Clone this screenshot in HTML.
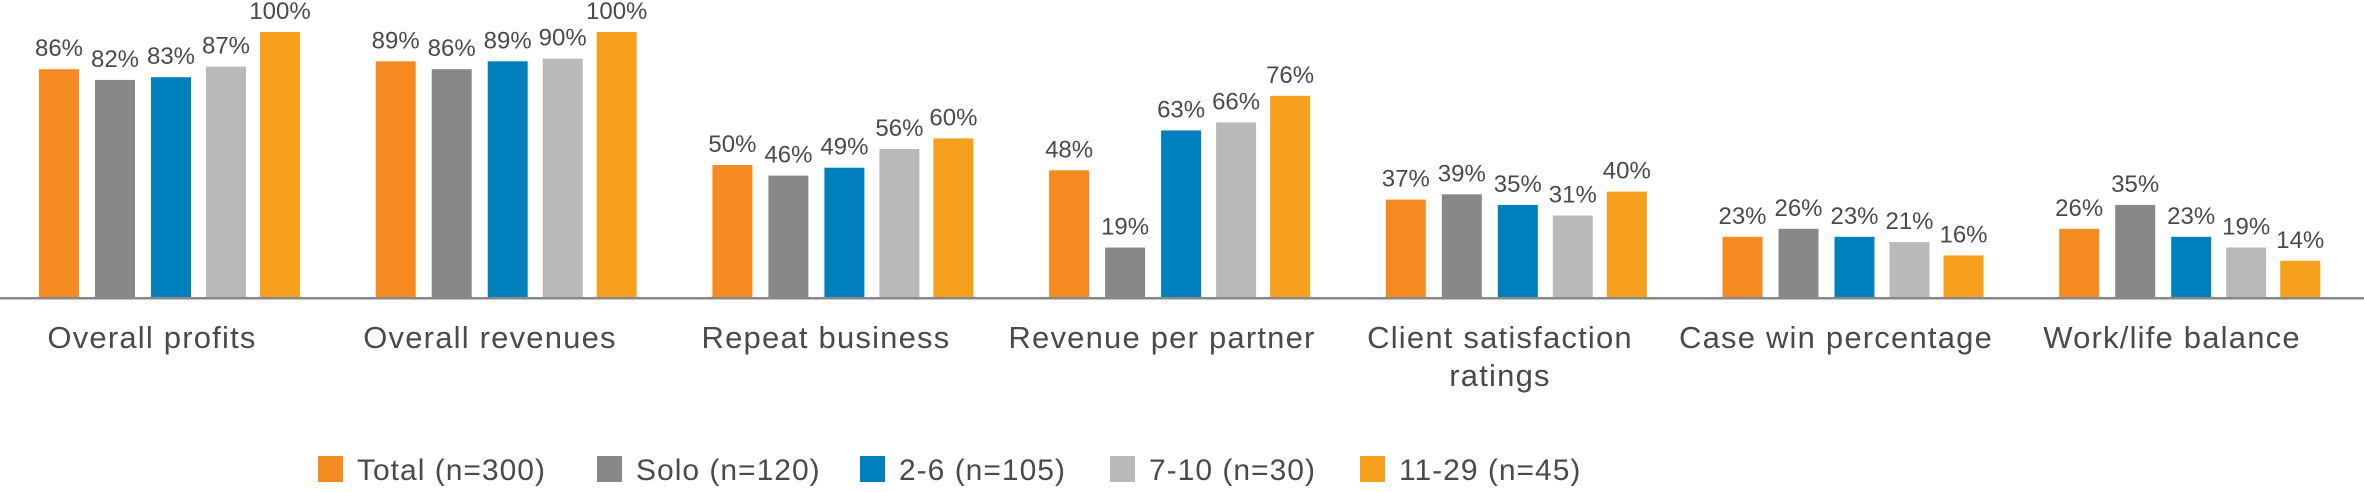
<!DOCTYPE html>
<html><head><meta charset="utf-8"><style>
html,body{margin:0;padding:0;background:#fff;}
svg text{font-family:"Liberation Sans",sans-serif;fill:#4a4a4a;}
</style></head><body>
<svg width="2364" height="487" viewBox="0 0 2364 487" xmlns="http://www.w3.org/2000/svg">
<g id="bars"></g>
<rect x="0" y="297" width="2364" height="2.5" fill="#87888a"/>
<g font-size="31" letter-spacing="1.2" text-anchor="middle">
<text x="152" y="348">Overall profits</text>
<text x="490" y="348">Overall revenues</text>
<text x="826" y="348">Repeat business</text>
<text x="1162" y="348">Revenue per partner</text>
<text x="1500" y="348">Client satisfaction</text>
<text x="1500" y="386">ratings</text>
<text x="1836" y="348">Case win percentage</text>
<text x="2172" y="348">Work/life balance</text>
</g>
<g font-size="30" letter-spacing="1">
<rect x="318" y="456" width="25" height="26" fill="#f58a21"/><text x="357" y="480">Total (n=300)</text>
<rect x="597" y="456" width="25" height="26" fill="#87888a"/><text x="636" y="480">Solo (n=120)</text>
<rect x="860" y="456" width="25" height="26" fill="#0081be"/><text x="899" y="480">2-6 (n=105)</text>
<rect x="1110" y="456" width="25" height="26" fill="#b8b9bb"/><text x="1149" y="480">7-10 (n=30)</text>
<rect x="1360" y="456" width="25" height="26" fill="#f7a01e"/><text x="1399" y="480">11-29 (n=45)</text>
</g>
</svg>
<script>
var data=[[86,82,83,87,100],[89,86,89,90,100],[50,46,49,56,60],[48,19,63,66,76],[37,39,35,31,40],[23,26,23,21,16],[26,35,23,19,14]];
var cols=["#f58a21","#87888a","#0081be","#b8b9bb","#f7a01e"];
var offs=[0,56,112,167,221];
var g=document.getElementById("bars"),s="";
data.forEach(function(d,i){d.forEach(function(v,j){
var x=39+i*336.7+offs[j],h=v*2.66,y=298-h;
s+='<rect x="'+x.toFixed(1)+'" y="'+y.toFixed(1)+'" width="40" height="'+h.toFixed(1)+'" fill="'+cols[j]+'"/>';
s+='<text x="'+(x+20).toFixed(1)+'" y="'+(y-13).toFixed(1)+'" font-size="24" text-anchor="middle">'+v+'%</text>';
});});
g.innerHTML=s;
</script>
</body></html>
